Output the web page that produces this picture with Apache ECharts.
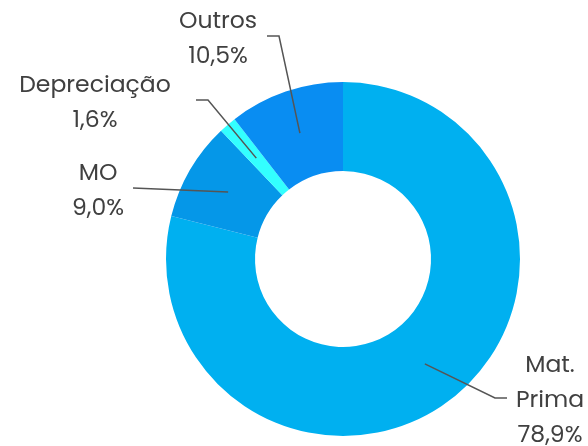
<!DOCTYPE html>
<html>
<head>
<meta charset="utf-8">
<script src="https://cdn.jsdelivr.net/npm/echarts@6/dist/echarts.min.js"></script>
<style>
  html, body { margin: 0; padding: 0; background: #fff; }
  #chart { width: 588px; height: 446px; }
</style>
</head>
<body>
<div id="chart"></div>
<script>
// dados do gráfico
var categorias = ['Mat.\nPrima', 'MO', 'Depreciação', 'Outros'];
var valores = [78.9, 9.0, 1.6, 10.5];
var cores = ['#00B0F0', '#0597E8', '#33FFFF', '#098DF2'];

// posição dos rótulos (centro do bloco de texto) e ponto final da linha guia
// dobra = tamanho do trecho horizontal da linha (0 = linha reta)
var rotulos = [
  { x: 550, y: 401, fimX: 507, fimY: 398, dobra: -12 },
  { x: 98, y: 192, fimX: 133, fimY: 188, dobra: 0 },
  { x: 95, y: 104, fimX: 196, fimY: 100, dobra: 12 },
  { x: 218, y: 40, fimX: 267, fimY: 36, dobra: 12 }
];

var dados = categorias.map(function (nome, i) {
  return { name: nome, value: valores[i], itemStyle: { color: cores[i] } };
});

var chart = echarts.init(document.getElementById('chart'), null, { renderer: 'canvas' });

var option = {
  animation: false,
  series: [
    {
      type: 'pie',
      center: [343, 259],
      radius: [88, 177],
      startAngle: 90,
      clockwise: true,
      silent: true,
      label: { show: false },
      labelLine: { show: false },
      data: dados
    },
    {
      // série invisível só para ancorar as linhas guia no meio do anel
      type: 'pie',
      center: [343, 259],
      radius: [0, 133],
      startAngle: 90,
      clockwise: true,
      silent: true,
      z: 5,
      itemStyle: { color: 'rgba(0,0,0,0)' },
      label: {
        show: true,
        position: 'outside',
        formatter: function (p) {
          return p.name + '\n' + p.value.toFixed(1).replace('.', ',') + '%';
        },
        fontFamily: 'Poppins, "DejaVu Sans", sans-serif',
        fontSize: 23.5,
        lineHeight: 35,
        color: '#404040',
        align: 'center'
      },
      labelLine: {
        show: true,
        length: 20,
        length2: 12,
        lineStyle: { color: '#555555', width: 1.5 }
      },
      labelLayout: function (params) {
        var r = rotulos[params.dataIndex];
        var p0 = params.labelLinePoints[0];
        var pts = [p0];
        if (r.dobra) pts.push([r.fimX + r.dobra, r.fimY]);
        pts.push([r.fimX, r.fimY]);
        return {
          x: r.x,
          y: r.y,
          align: 'center',
          verticalAlign: 'middle',
          labelLinePoints: pts
        };
      },
      data: dados.map(function (d) { return { name: d.name, value: d.value }; })
    }
  ]
};

chart.setOption(option);
</script>
</body>
</html>
